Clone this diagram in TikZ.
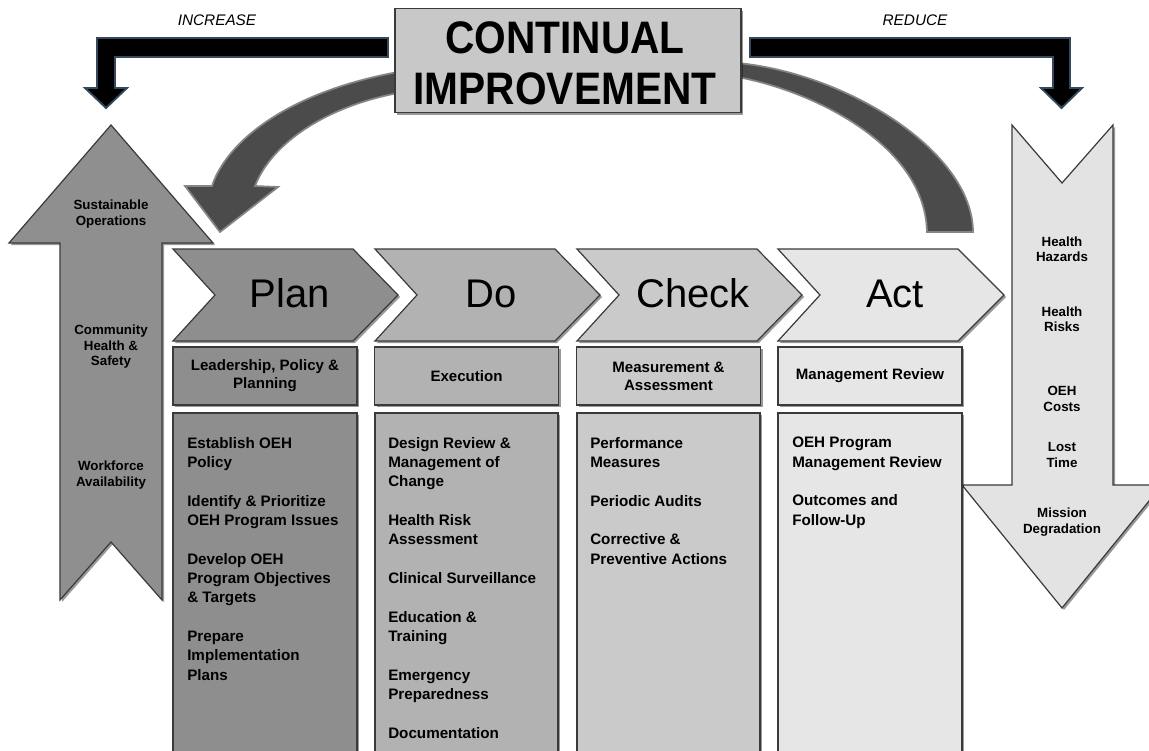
\documentclass[tikz,border=0pt]{standalone}
\usepackage{fontspec}
\setmainfont{Liberation Sans}
\usetikzlibrary{shadows}
\definecolor{planc}{HTML}{8E8E8E}
\definecolor{doc}{HTML}{B2B2B2}
\definecolor{checkc}{HTML}{CACACA}
\definecolor{actc}{HTML}{E6E6E6}
\definecolor{leftc}{HTML}{8F8F8F}
\definecolor{rightc}{HTML}{E3E3E3}
\definecolor{titlec}{HTML}{C8C8C8}
\definecolor{arcc}{HTML}{4B4B4B}
\definecolor{arcedge}{HTML}{858585}
\definecolor{edgec}{HTML}{3A3A3A}
\definecolor{navy}{HTML}{34495E}
\begin{document}
\begin{tikzpicture}[x=0.75pt,y=-0.75pt,
  shad/.style={drop shadow={shadow xshift=1.5pt,shadow yshift=-1.5pt,opacity=0.4,fill=black}},
  shape3d/.style={draw=edgec,line width=0.9pt,shad},
  bigarrow/.style={fill=black,draw=navy,line width=1.4pt,line join=miter},
  arcarrow/.style={fill=arcc,draw=arcedge,line width=1.3pt,line join=miter},
  catbox/.style={shape3d,rectangle,minimum width=138pt,minimum height=43.5pt,inner sep=0pt,align=center,font=\fontsize{11.3}{13.5}\selectfont\bfseries},
  chevlabel/.style={anchor=base,inner sep=0pt,font=\fontsize{30}{36}\selectfont},
  content/.style={anchor=north west,inner sep=0pt,align=left,font=\fontsize{11.4}{14.5}\selectfont\bfseries},
  sidetext/.style={align=center,inner sep=0pt,font=\fontsize{10}{11.6}\selectfont\bfseries},
  toplabel/.style={inner sep=0pt,font=\fontsize{11.5}{13}\selectfont\itshape},
  titlebox/.style={shape3d,fill=titlec,rectangle,minimum width=259.5pt,minimum height=78pt,inner sep=0pt},
  titletext/.style={inner sep=0pt,align=center,font=\fontsize{30.5}{38.25}\selectfont\bfseries}
]
\useasboundingbox (0,0) rectangle (1149,750);
\fill[white] (0,0) rectangle (1149,750);

% curved arrows of the cycle
\filldraw[arcarrow] (410,70) .. controls (295,88) and (228,138) .. (212,186)
  -- (185,186) -- (220,232) -- (278,187) -- (255,186)
  .. controls (272,142) and (330,103) .. (410,91) -- cycle;
\filldraw[arcarrow] (725,62) .. controls (840,68) and (973,150) .. (973,232)
  -- (927,232) .. controls (925,140) and (800,85) .. (725,75) -- cycle;

% title
\node[titlebox] (tbox) at (568,60.5) {};
\node[titletext] (title) at (565,63.5) {\scalebox{1}[1.12]{CONTINUAL}\\\scalebox{1}[1.12]{IMPROVEMENT}};

% black bent arrows
\filldraw[bigarrow] (388,38) -- (97,38) -- (97,88) -- (85,88) -- (106,108) -- (127,88) -- (115,88) -- (115,57) -- (388,57) -- cycle;
\filldraw[bigarrow] (750,38) -- (1070,38) -- (1070,88) -- (1082,88) -- (1061.5,108) -- (1041,88) -- (1053,88) -- (1053,57) -- (750,57) -- cycle;
\node[toplabel] (inc) at (217,20) {INCREASE};
\node[toplabel] (red) at (915,20) {REDUCE};

% left up arrow
\filldraw[shape3d,fill=leftc] (111,125) -- (213,243) -- (162,243) -- (162,600) -- (111,542) -- (60,600) -- (60,243) -- (9,243) -- cycle;
\node[sidetext] (l1) at (111,214) {Sustainable\\Operations};
\node[sidetext] (l2) at (111,347) {Community\\Health \&\\Safety};
\node[sidetext] (l3) at (111,475) {Workforce\\Availability};

% right down arrow
\filldraw[shape3d,fill=rightc] (1012,125) -- (1062,183) -- (1113,125) -- (1113,485) -- (1162,485) -- (1062,608) -- (962,485) -- (1012,485) -- cycle;
\node[sidetext] (r1) at (1062,249) {Health\\Hazards};
\node[sidetext] (r2) at (1062,319) {Health\\Risks};
\node[sidetext] (r3) at (1062,399) {OEH\\Costs};
\node[sidetext] (r4) at (1062,455) {Lost\\Time};
\node[sidetext] (r5) at (1062,522) {Mission\\Degradation};

% chevrons
\filldraw[shape3d,fill=planc] (173,249) -- (353,249) -- (398,295) -- (353,341) -- (173,341) -- (215,295) -- cycle;
\filldraw[shape3d,fill=doc] (375,249) -- (555,249) -- (600,295) -- (555,341) -- (375,341) -- (417,295) -- cycle;
\filldraw[shape3d,fill=checkc] (577,249) -- (757,249) -- (802,295) -- (757,341) -- (577,341) -- (619,295) -- cycle;
\filldraw[shape3d,fill=actc] (778,249) -- (958,249) -- (1004,295) -- (958,341) -- (778,341) -- (820,295) -- cycle;
\node[chevlabel] (plan) at (290,307) {Plan};
\node[chevlabel] (do) at (491,307) {Do};
\node[chevlabel] (check) at (693,307) {Check};
\node[chevlabel] (act) at (895,307) {Act};

% category boxes
\node[catbox,fill=planc] (pcat) at (265,376) {Leadership, Policy \&\\Planning};
\node[catbox,fill=doc] (dcat) at (466.5,376) {Execution};
\node[catbox,fill=checkc] (ccat) at (668.5,376) {Measurement \&\\Assessment};
\node[catbox,fill=actc] (acat) at (870,376) {Management Review};

% content boxes
\filldraw[shape3d,fill=planc] (173,413) rectangle (357,756);
\filldraw[shape3d,fill=doc] (375,413) rectangle (558,756);
\filldraw[shape3d,fill=checkc] (577,413) rectangle (760,756);
\filldraw[shape3d,fill=actc] (778,413) rectangle (962,756);

\node[content] (ptext) at (187,437) {Establish OEH\\Policy\\[14.5pt]Identify \& Prioritize\\OEH Program Issues\\[14.5pt]Develop OEH\\Program Objectives\\\& Targets\\[14.5pt]Prepare\\Implementation\\Plans};
\node[content] (dtext) at (388,437) {Design Review \&\\Management of\\Change\\[14.5pt]Health Risk\\Assessment\\[14.5pt]Clinical Surveillance\\[14.5pt]Education \&\\Training\\[14.5pt]Emergency\\Preparedness\\[14.5pt]Documentation};
\node[content] (ctext) at (590,437) {Performance\\Measures\\[14.5pt]Periodic Audits\\[14.5pt]Corrective \&\\Preventive Actions};
\node[content] (atext) at (792,437) {OEH Program\\Management Review\\[14.5pt]Outcomes and\\Follow-Up};
\end{tikzpicture}
\end{document}
